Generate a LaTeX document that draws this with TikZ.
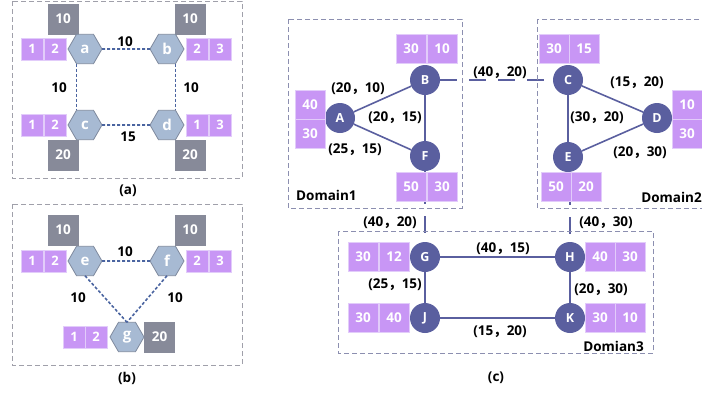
\documentclass[tikz,border=0pt]{standalone}
\usepackage{fontspec}
\setmainfont{Open Sans}
\newfontfamily\cjkf{Noto Sans CJK SC}
\usetikzlibrary{shapes.geometric,calc,backgrounds}
\definecolor{purp}{HTML}{C896F5}
\definecolor{purpline}{HTML}{E2CCFA}
\definecolor{grayb}{HTML}{878A99}
\definecolor{hexfill}{HTML}{A7BAD3}
\definecolor{hexdraw}{HTML}{7F8A9E}
\definecolor{cblue}{HTML}{5A5F9F}
\definecolor{dblue}{HTML}{4A64A0}
\definecolor{panelc}{HTML}{A0A0AA}
\definecolor{domc}{HTML}{8C8FB0}
\newcommand\fwc{{\cjkf ，}}
\begin{document}
\begin{tikzpicture}[x=1pt,y=-1pt,
  hexn/.style={regular polygon, regular polygon sides=6, minimum size=34pt, inner sep=0pt, outer sep=0pt, fill=hexfill, draw=hexdraw, line width=0.8pt, text=white, font=\bfseries\fontsize{15}{15}\selectfont},
  pb/.style={rectangle, minimum width=22pt, minimum height=22pt, inner sep=0pt, outer sep=0pt, fill=purp, draw=purpline, line width=0.7pt, text=white, font=\bfseries\fontsize{13}{13}\selectfont},
  pc/.style={pb, minimum width=30pt, minimum height=29pt, font=\bfseries\fontsize{13.5}{13.5}\selectfont},
  gb/.style={rectangle, minimum size=31pt, inner sep=0pt, outer sep=0pt, fill=grayb, text=white, font=\bfseries\fontsize{13.5}{13.5}\selectfont},
  cn/.style={circle, minimum size=30pt, inner sep=0pt, outer sep=0pt, fill=cblue, text=white, font=\bfseries\fontsize{12.5}{12.5}\selectfont},
  lab/.style={font=\bfseries\fontsize{13.5}{14}\selectfont, text=black, inner sep=0pt},
  dl/.style={draw=dblue, line width=1.6pt, dash pattern=on 3pt off 2pt},
  ln/.style={draw=cblue, line width=1.6pt},
  il/.style={ln, dash pattern=on 17pt off 12pt},
  panel/.style={draw=panelc, line width=0.8pt, dash pattern=on 5pt off 3pt},
  dom/.style={draw=domc, line width=0.8pt, dash pattern=on 5pt off 3pt}]
\useasboundingbox (0,0) rectangle (702,394);

% ---------- panel (a)
\draw[panel] (12,1) rectangle (242,178);
\node[gb] (ga) at (63,19) {10};
\node[gb] (gbb) at (190,19) {10};
\node[gb] (gc) at (63,155) {20};
\node[gb] (gd) at (190,155) {20};
\node[pb] (pa1) at (32,49) {1};
\node[pb] (pa2) at (55,49) {2};
\node[pb] (pb1) at (197,49) {2};
\node[pb] (pb2) at (220,49) {3};
\node[pb] (pc1) at (32,125) {1};
\node[pb] (pc2) at (55,125) {2};
\node[pb] (pd1) at (197,125) {1};
\node[pb] (pd2) at (220,125) {3};
\node[hexn] (a) at (85,49) {a};
\node[hexn] (b) at (167,49) {b};
\node[hexn] (c) at (85,125) {c};
\node[hexn] (d) at (167,125) {d};
\draw[dl] (a.east) -- (b.west);
\draw[dl] (c.east) -- (d.west);
\draw[dl] ($(a.south)+(-8.5,0)$) -- ($(c.north)+(-8.5,0)$);
\draw[dl] ($(b.south)+(8.5,0)$) -- ($(d.north)+(8.5,0)$);
\node[lab] (lab1) at (125,42) {10};
\node[lab] (lac1) at (59,88) {10};
\node[lab] (lbd1) at (191,88) {10};
\node[lab] (lcd1) at (128,137) {15};
\node[lab] (capa) at (128,191) {(a)};

% ---------- panel (b)
\draw[panel] (12,204) rectangle (242,365);
\node[gb] (ge) at (63,230) {10};
\node[gb] (gf) at (190,230) {10};
\node[gb] (gg) at (159.5,337) {20};
\node[pb] (pe1) at (32,261) {1};
\node[pb] (pe2) at (55,261) {2};
\node[pb] (pf1) at (197,261) {2};
\node[pb] (pf2) at (220,261) {3};
\node[pb] (pg1) at (74,337) {1};
\node[pb] (pg2) at (96,337) {2};
\node[hexn] (e) at (85,261) {e};
\node[hexn] (f) at (167,261) {f};
\node[hexn] (g) at (127,337) {g};
\draw[dl] (e.east) -- (f.west);
\draw[dl] (e.south) -- (g.north);
\draw[dl] (f.south) -- (g.north);
\node[lab] (lef) at (125,252) {10};
\node[lab] (leg) at (78,298) {10};
\node[lab] (lfg) at (175,298) {10};
\node[lab] (capb) at (127,378) {(b)};

% ---------- panel (c)
\draw[dom] (288,19) rectangle (462,208);
\draw[dom] (537,19) rectangle (705,208);
\draw[dom] (338,231) rectangle (653,353);

\node[cn] (A) at (340,118) {A};
\node[cn] (B) at (425,80) {B};
\node[cn] (F) at (425,156) {F};
\node[cn] (C) at (568,80) {C};
\node[cn] (D) at (657,118) {D};
\node[cn] (E) at (568,157) {E};
\node[cn] (G) at (425,257) {G};
\node[cn] (H) at (570,257) {H};
\node[cn] (J) at (425,318) {J};
\node[cn] (K) at (570,318) {K};

\node[pc] (pB1) at (411,48.5) {30};
\node[pc] (pB2) at (442,48.5) {10};
\node[pc] (pA1) at (310,105) {40};
\node[pc] (pA2) at (310,134) {30};
\node[pc] (pF1) at (411,187) {50};
\node[pc] (pF2) at (442,187) {30};
\node[pc] (pC1) at (554,48.5) {30};
\node[pc] (pC2) at (584,48.5) {15};
\node[pc] (pD1) at (687,105) {10};
\node[pc] (pD2) at (687,134) {30};
\node[pc] (pE1) at (556,187) {50};
\node[pc] (pE2) at (586,187) {20};
\node[pc] (pG1) at (363,257) {30};
\node[pc] (pG2) at (394,257) {12};
\node[pc] (pJ1) at (363,318) {30};
\node[pc] (pJ2) at (394,318) {40};
\node[pc] (pH1) at (600,257) {40};
\node[pc] (pH2) at (630,257) {30};
\node[pc] (pK1) at (600,318) {30};
\node[pc] (pK2) at (630,318) {10};

\begin{scope}[on background layer]
\draw[ln] (A) -- (B);
\draw[ln] (A) -- (F);
\draw[ln] (B) -- (F);
\draw[ln] (C) -- (D);
\draw[ln] (C) -- (E);
\draw[ln] (D) -- (E);
\draw[ln] (G) -- (H);
\draw[ln] (G) -- (J);
\draw[ln] (H) -- (K);
\draw[ln] (J) -- (K);
\draw[il] (B.east) -- (C.west);
\draw[il, dash phase=13pt] (F.south) -- (G.north);
\draw[il, dash phase=13pt] (E.south -| H) -- (H.north);
\end{scope}

\node[lab] (lAB) at (358,89) {(20\fwc 10)};
\node[lab] (lBF) at (395,118) {(20\fwc 15)};
\node[lab] (lAF) at (355,150) {(25\fwc 15)};
\node[lab] (lBC) at (500,73) {(40\fwc 20)};
\node[lab] (lCD) at (637,83) {(15\fwc 20)};
\node[lab] (lCE) at (597,118) {(30\fwc 20)};
\node[lab] (lDE) at (640,153) {(20\fwc 30)};
\node[lab] (lFG) at (390,223) {(40\fwc 20)};
\node[lab] (lEH) at (606,223) {(40\fwc 30)};
\node[lab] (lGH) at (503,249) {(40\fwc 15)};
\node[lab] (lGJ) at (395,285) {(25\fwc 15)};
\node[lab] (lHK) at (601,290) {(20\fwc 30)};
\node[lab] (lJK) at (500,332) {(15\fwc 20)};
\node[lab, anchor=west] (d1) at (296,195) {Domain1};
\node[lab, anchor=east] (d2) at (702,197) {Domain2};
\node[lab, anchor=east] (d3) at (644,346) {Domian3};
\node[lab] (capc) at (496,378) {(c)};
\end{tikzpicture}
\end{document}
